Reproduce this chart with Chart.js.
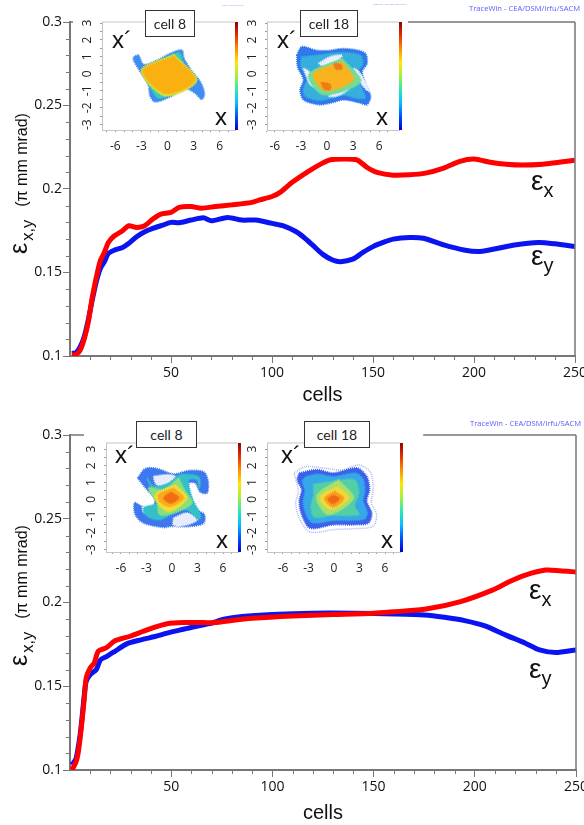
<!DOCTYPE html>
<html>
<head>
<meta charset="utf-8">
<title>emittance growth</title>
<script src="https://cdn.jsdelivr.net/npm/chart.js@4/dist/chart.umd.js"></script>
<style>
  html, body { margin: 0; background: #fff; }
  #page { position: relative; width: 584px; height: 825px; overflow: hidden; }
  canvas { position: absolute; }
  .inset { background: #fff; filter: blur(0.55px); }
  .note { position: absolute; white-space: nowrap; font-family: "Liberation Sans", sans-serif; color: #111; }
  .box { position: absolute; box-sizing: border-box; background: #fff; border: 1px solid #333; font: 14px Lato, sans-serif; color: #222; text-align: center; line-height: 25px; }
  .trace { position: absolute; white-space: nowrap; font: 7.6px "Open Sans", sans-serif; color: #5a5aff; }
  .ytitle { position: absolute; white-space: nowrap; font-family: "Liberation Sans", sans-serif; color: #111; transform-origin: 0 0; transform: rotate(-90deg); line-height: 26px; }
  .eps { font-size: 25px; }
  .s1 { font-size: 16.5px; position: relative; top: 6px; margin-right: 13px; margin-left: 2px; word-spacing: -1px; }
  .s2 { font-size: 16px; }
  .big { font-size: 28px; }
  .sub { font-size: 20px; position: relative; top: 7px; }
</style>
</head>
<body>
<div id="page">
  <canvas id="mainTop" width="584" height="410" style="left:0;top:0"></canvas>
  <canvas id="mainBottom" width="584" height="415" style="left:0;top:410px"></canvas>
  <canvas id="insetA" class="inset" width="166" height="157" style="left:78px;top:0"></canvas>
  <canvas id="insetB" class="inset" width="164" height="157" style="left:244px;top:0"></canvas>
  <canvas id="insetC" class="inset" width="160" height="160" style="left:84px;top:416px"></canvas>
  <canvas id="insetD" class="inset" width="176" height="160" style="left:244px;top:416px"></canvas>

  <div class="trace" style="left:469px;top:3px">TraceWin - CEA/DSM/Irfu/SACM</div>
  <div class="trace" style="left:470px;top:418px">TraceWin - CEA/DSM/Irfu/SACM</div>
  <div class="trace" style="left:222px;top:4px;font-size:1.5px;color:#8080ff">TraceWin - CEA/DSM/Irfu/SACM</div>
  <div class="trace" style="left:373px;top:3px;font-size:2.3px;color:#8080ff">TraceWin - CEA/DSM/Irfu/SACM</div>

  <div class="box" style="left:145px;top:10px;width:50px;height:27px">cell 8</div>
  <div class="box" style="left:300px;top:10px;width:58px;height:27px">cell 18</div>
  <div class="box" style="left:136px;top:421px;width:61px;height:27px">cell 8</div>
  <div class="box" style="left:304px;top:421px;width:66px;height:27px">cell 18</div>

  <div class="note" style="left:112px;top:26px;font-size:24px">x´</div>
  <div class="note" style="left:215px;top:103px;font-size:24px">x</div>
  <div class="note" style="left:277px;top:26px;font-size:24px">x´</div>
  <div class="note" style="left:376px;top:103px;font-size:24px">x</div>
  <div class="note" style="left:115px;top:441px;font-size:24px">x´</div>
  <div class="note" style="left:216px;top:526px;font-size:24px">x</div>
  <div class="note" style="left:281px;top:441px;font-size:24px">x´</div>
  <div class="note" style="left:381px;top:526px;font-size:24px">x</div>

  <div class="ytitle" style="left:5px;top:254px"><span class="eps">ε</span><span class="s1">x,y</span><span class="s2">(π mm mrad)</span></div>
  <div class="ytitle" style="left:5px;top:666px"><span class="eps">ε</span><span class="s1">x,y</span><span class="s2">(π mm mrad)</span></div>

  <div class="note" style="left:531px;top:165px"><span class="big">ε</span><span class="sub">x</span></div>
  <div class="note" style="left:531px;top:240px"><span class="big">ε</span><span class="sub">y</span></div>
  <div class="note" style="left:529px;top:574px"><span class="big">ε</span><span class="sub">x</span></div>
  <div class="note" style="left:529px;top:653px"><span class="big">ε</span><span class="sub">y</span></div>
</div>

<script>
// main curves: cell number + emittance
const topRedCells = [1, 3, 5, 7, 9, 11, 13, 15, 17, 19, 22, 26, 29, 33, 37, 41, 45, 50, 54, 60, 65, 72, 80, 90, 94, 100, 104, 110, 119, 125, 129, 135, 142, 147, 152, 160, 168, 176, 185, 193, 200, 208, 216, 224, 234, 242, 250];
const topRedValues = [0.1005, 0.101, 0.1034, 0.11, 0.12, 0.135, 0.147, 0.157, 0.162, 0.168, 0.172, 0.175, 0.178, 0.177, 0.178, 0.182, 0.185, 0.186, 0.189, 0.1895, 0.1885, 0.1895, 0.1905, 0.192, 0.1935, 0.1955, 0.198, 0.204, 0.2113, 0.2155, 0.2175, 0.218, 0.2175, 0.213, 0.21, 0.2083, 0.2085, 0.2095, 0.2125, 0.2165, 0.2179, 0.216, 0.2148, 0.2143, 0.2148, 0.216, 0.2173];
const topBlueCells = [1, 3, 5, 7, 9, 11, 13, 15, 17, 19, 22, 26, 29, 33, 37, 41, 46, 50, 54, 60, 66, 70, 78, 85, 92, 100, 106, 112, 116, 120, 125, 130, 134, 140, 145, 150, 155, 160, 168, 175, 185, 195, 203, 212, 220, 232, 240, 250];
const topBlueValues = [0.1015, 0.102, 0.1054, 0.1114, 0.1214, 0.1334, 0.1444, 0.1524, 0.1564, 0.1614, 0.1634, 0.165, 0.1674, 0.1714, 0.1744, 0.1764, 0.1784, 0.18, 0.1798, 0.1814, 0.1828, 0.181, 0.183, 0.1814, 0.1814, 0.1794, 0.1778, 0.1744, 0.1708, 0.1665, 0.161, 0.1575, 0.1565, 0.158, 0.162, 0.1655, 0.168, 0.17, 0.171, 0.1705, 0.1665, 0.1635, 0.1626, 0.1645, 0.1665, 0.168, 0.1672, 0.1655];
const bottomRedCells = [1, 3, 4, 5, 6, 7, 8, 10, 12, 14, 18, 22, 30, 36, 42, 48, 56, 66, 72, 78, 90, 110, 130, 150, 160, 176, 193, 209, 217, 225, 235, 242, 250];
const bottomRedValues = [0.1, 0.105, 0.11, 0.119, 0.13, 0.142, 0.155, 0.161, 0.164, 0.171, 0.173, 0.177, 0.18, 0.1827, 0.1853, 0.1873, 0.188, 0.188, 0.188, 0.189, 0.1906, 0.192, 0.1928, 0.1936, 0.1945, 0.1961, 0.2005, 0.2075, 0.2124, 0.2164, 0.2194, 0.219, 0.2182];
const bottomBlueCells = [1, 3, 5, 6, 7, 8, 10, 13, 15, 18, 22, 28, 35, 42, 48, 56, 62, 70, 76, 85, 100, 120, 140, 160, 175, 185, 195, 205, 215, 225, 232, 240, 250];
const bottomBlueValues = [0.103, 0.107, 0.121, 0.132, 0.144, 0.153, 0.157, 0.16, 0.1657, 0.1677, 0.1707, 0.1753, 0.1777, 0.1797, 0.1817, 0.184, 0.1857, 0.1877, 0.19, 0.1916, 0.1928, 0.1936, 0.1936, 0.1932, 0.1926, 0.1912, 0.1892, 0.186, 0.1807, 0.1757, 0.1717, 0.1701, 0.1717];

const yMajorTicks = [0.1, 0.15, 0.2, 0.25, 0.3];
const yMinorTicks = [0.11, 0.12, 0.13, 0.14, 0.16, 0.17, 0.18, 0.19, 0.21, 0.22, 0.23, 0.24, 0.26, 0.27, 0.28, 0.29];
const xMajorTicks = [50, 100, 150, 200, 250];
const xMinorTicks = [10, 20, 30, 40, 60, 70, 80, 90, 110, 120, 130, 140, 160, 170, 180, 190, 210, 220, 230, 240];

// phase space insets: contour outlines in (x, x') units
const insetXTicks = [-7, -6, -5, -4, -3, -2, -1, 0, 1, 2, 3, 4, 5, 6, 7];
const insetYTicks = [-3, -2.5, -2, -1.5, -1, -0.5, 0, 0.5, 1, 1.5, 2, 2.5, 3];
const insetXLabels = [-6, -3, 0, 3, 6];
const insetYLabels = [-3, -2, -1, 0, 1, 2, 3];

const c8TopOuter = [[-3.9, 1], [-3.35, 1.1], [-2.75, 0.55], [-1.2, 0.8], [0.3, 1.2], [1.65, 1.4], [1.9, 0.9], [2.8, 0.15], [3.75, -0.45], [4.25, -1.15], [3.95, -1.5], [3.2, -1.15], [2.05, -0.85], [0.5, -1.3], [-1.4, -1.65], [-2, -1.3], [-2.2, -0.65], [-3.15, 0.15], [-3.9, 0.8]];
const c8TopMid = [[-3, 0.3], [-1.2, 0.72], [0.3, 1.08], [1.4, 1.2], [2.05, 0.25], [3.4, -0.35], [2.6, -0.7], [0.7, -1.17], [-1.05, -1.42], [-1.8, -0.93], [-2.6, -0.25]];
const c8TopGreen = [[0.75, 1.15], [3.35, -0.4], [-0.3, -1.3], [-3, 0.2]];
const c8TopCore = [[0.7, 1.03], [3.15, -0.35], [-0.2, -1.15], [-2.8, 0.18]];

const c18TopOuter = [[-3.46, 1.11], [-2.88, 1.6], [-1.35, 1.4], [0, 1.36], [1.73, 1.48], [3.46, 1.4], [4.42, 1.2], [4.6, 0.62], [4.04, 0.14], [4.42, -0.55], [5, -1.33], [4.6, -1.81], [3.85, -1.72], [1.92, -1.52], [0.38, -1.72], [-0.96, -1.81], [-2.7, -1.52], [-3.08, -0.94], [-2.7, -0.35], [-3.38, 0.43]];
const c18TopTeal = [[-2.9, 1], [-1, 1.1], [1.6, 1.25], [3.8, 1.1], [4.1, 0.6], [3.5, 0.1], [4, -0.9], [4.4, -1.4], [3.6, -1.45], [1.8, -1.25], [0.3, -1.45], [-1, -1.55], [-2.5, -1.3], [-2.7, -0.9], [-2.3, -0.3], [-3, 0.5]];
const c18TopHoleA = [[-0.96, 0.62], [0.38, 1.01], [1.73, 1.11], [1.35, 0.86], [0.19, 0.62], [-0.58, 0.49]];
const c18TopHoleB = [[-2.7, 0.33], [-2.1, 0.14], [-1.35, -0.55], [-1.35, -0.78], [-1.92, -0.64], [-2.4, -0.1]];
const c18TopHoleC = [[0.19, -1.33], [1.35, -0.97], [2.5, -0.84], [1.92, -1.13], [0.96, -1.33]];
const c18TopHoleD = [[3.08, 0.33], [3.65, 0.14], [4.6, -0.64], [4.8, -1.03], [4.04, -0.64]];
const c18TopGreen = [[1.75, 0.9], [3.85, -0.45], [-0.4, -1.23], [-2.1, -0.06]];
const c18TopCore = [[1.7, 0.72], [3.05, -0.35], [-0.2, -0.98], [-1.55, 0]];
const c18TopHotA = [[0.8, 0.62], [1.6, 0.55], [1.7, 0.3], [1, 0.3]];
const c18TopHotB = [[-0.7, -0.5], [0.3, -0.6], [0.4, -0.9], [-0.3, -0.9]];

const c8BotOuter = [[-4.04, 1.27], [-3.14, 1.83], [-1.76, 1.83], [0.2, 1.51], [1.96, 1.71], [3.73, 1.63], [4.24, 1.07], [4.12, 0.38], [3.33, 0.44], [2.75, 0.97], [1.96, 0.97], [2.16, 0.28], [2.94, -0.62], [3.8, -0.91], [3.73, -1.41], [2.16, -1.61], [-0.2, -1.61], [-0.98, -1.67], [-3.33, -1.41], [-4.31, -0.91], [-4.39, -0.22], [-3.53, -0.42], [-2.16, -0.42], [-2.08, 0.08], [-2.94, 0.58]];
const c8BotHoleA = [[-2.16, 1.37], [-0.59, 1.47], [0.39, 1.37], [-0.39, 0.97], [-1.18, 0.68], [-1.96, 0.97]];
const c8BotHoleB = [[0.2, -1.11], [1.76, -0.82], [2.94, -1.21], [1.76, -1.51], [0.2, -1.55]];
const c8BotHoleC = [[-3.5, -0.45], [-2.2, -0.45], [-2.1, -0.75], [-3.3, -0.8]];
const c8BotTeal = [[-2.94, 1.27], [-2.16, 0.78], [-0.39, 0.97], [0.98, 1.47], [2.9, 1.4], [3.3, 1.15], [3.2, 0.7], [2.94, 1.17], [1.96, 1.17], [2.35, 0.08], [3.33, -0.91], [3.14, -1.21], [1.76, -0.62], [0.2, -0.82], [-1.37, -1.21], [-2.6, -1.1], [-3.2, -0.85], [-3.3, -0.5], [-2.16, -0.32], [-1.57, -0.22], [-2.35, 0.58]];
const c8BotGreen = [[0.78, 1.27], [1.57, 0.48], [2.35, -0.22], [0.2, -0.82], [-1.45, -0.91], [-1.76, -0.22], [-2.75, 0.68], [-0.98, 0.58]];
const c8BotYellow = [[0.39, 0.87], [1.76, 0.08], [-0.2, -0.72], [-1.37, -0.42], [-1.96, 0.28]];
const c8BotOrange = [[0.2, 0.68], [1.37, 0.08], [-0.2, -0.42], [-1.37, -0.16], [-1.57, 0.28]];
const c8BotRed = [[-0.12, 0.44], [0.78, 0.08], [-0.2, -0.22], [-0.98, 0.08]];

const c18BotHalo = [[-4.7, 1.55], [-3.4, 1.95], [-1, 1.85], [1, 1.75], [2.9, 2.05], [4.3, 1.6], [4.6, 0.6], [4.4, -0.2], [5, -0.9], [4.6, -1.6], [2.4, -1.75], [0, -1.8], [-2.8, -1.95], [-4.1, -1.1], [-4.5, -0.2], [-4.2, 0.5]];
const c18BotOuter = [[-4.08, 1.57], [-2.04, 1.77], [-0.08, 1.57], [2.67, 1.87], [3.84, 1.37], [4.16, 0.58], [3.84, -0.12], [4.43, -0.82], [4.04, -1.41], [2.27, -1.51], [-0.08, -1.51], [-2.82, -1.71], [-3.8, -0.91], [-4.08, -0.12], [-3.8, 0.58], [-4.31, 1.17]];
const c18BotCyan = [[-3.3, 1.35], [-1.9, 1.5], [0, 1.35], [2.5, 1.55], [3.4, 1.2], [3.6, 0.5], [3.4, -0.1], [3.9, -0.8], [3.6, -1.15], [2.2, -1.25], [0, -1.25], [-2.5, -1.4], [-3.3, -0.85], [-3.6, -0.15], [-3.4, 0.55], [-3.7, 1.1]];
const c18BotTeal = [[-2.4, 0.9], [0.3, 1.1], [2.4, 1.15], [2.9, 0.4], [2.4, -0.4], [2.9, -0.9], [-0.3, -0.95], [-2.3, -1.05], [-2.7, -0.4], [-2.4, 0.2]];
const c18BotGreen = [[0.5, 1.17], [2.27, 0.08], [-0.67, -0.91], [-2.04, 0.18]];
const c18BotYellow = [[0.4, 0.75], [1.7, 0.08], [-0.4, -0.6], [-1.6, 0.14]];
const c18BotOrange = [[0.1, 0.5], [1.15, 0.05], [-0.1, -0.45], [-1.1, 0.05]];
const c18BotRed = [[-0.1, 0.25], [0.6, 0.05], [-0.1, -0.25], [-0.7, 0]];

const jet = ["#0000d8", "#0050ff", "#00c0ff", "#30e8b0", "#a0f040", "#ffe800", "#ff9000", "#e83000", "#900000"];
const axisGrey = "#777";

function zip(cells, values) {
  return cells.map((c, i) => ({ x: c, y: values[i] }));
}

// the scales keep half a label of room at each end, drop it so the frame sits where it should
function noScalePad(s) {
  s.paddingLeft = s.paddingRight = s.paddingTop = s.paddingBottom = 0;
}

// axis decoration the scale options can't do: short minor ticks, frame pieces
const mainDecor = {
  id: "mainDecor",
  afterDraw(chart, args, opts) {
    const { ctx, chartArea: a, scales: { x, y } } = chart;
    ctx.save();
    ctx.strokeStyle = axisGrey;
    ctx.lineWidth = 1;
    ctx.beginPath();
    yMinorTicks.forEach(v => {
      const p = Math.round(y.getPixelForValue(v)) + 0.5;
      ctx.moveTo(a.left - 4, p);
      ctx.lineTo(a.left, p);
    });
    xMinorTicks.forEach(v => {
      const p = Math.round(x.getPixelForValue(v)) + 0.5;
      ctx.moveTo(p, a.bottom);
      ctx.lineTo(p, a.bottom + 4);
    });
    ctx.stroke();
    ctx.lineWidth = 1.5;
    ctx.beginPath();
    opts.topFrame.forEach(seg => {
      ctx.moveTo(x.getPixelForValue(seg[0]), a.top);
      ctx.lineTo(x.getPixelForValue(seg[1]), a.top);
    });
    ctx.moveTo(a.right, a.top);
    ctx.lineTo(a.right, a.bottom);
    ctx.stroke();
    ctx.restore();
  }
};

function makeMain(id, padTop, padRight, axisHeight, titlePad, topFrame, blue, red) {
  return new Chart(document.getElementById(id), {
    type: "scatter",
    data: {
      datasets: [
        { label: "ex", data: red, showLine: true, borderColor: "#ff0000", backgroundColor: "#ff0000", borderWidth: 5, pointRadius: 0, tension: 0.25 },
        { label: "ey", data: blue, showLine: true, borderColor: "#0a14f0", backgroundColor: "#0a14f0", borderWidth: 5, pointRadius: 0, tension: 0.25 }
      ]
    },
    options: {
      responsive: false,
      animation: false,
      layout: { autoPadding: false, padding: { top: padTop, right: padRight, left: 0, bottom: 0 } },
      plugins: { legend: { display: false }, tooltip: { enabled: false }, mainDecor: { topFrame } },
      scales: {
        x: {
          type: "linear",
          min: 0,
          max: 250,
          afterFit: s => { s.height = axisHeight; noScalePad(s); },
          afterBuildTicks: s => { s.ticks = xMajorTicks.map(v => ({ value: v })); },
          border: { color: axisGrey, width: 2 },
          grid: { drawOnChartArea: false, tickLength: 7, tickColor: axisGrey, tickWidth: 1 },
          ticks: { maxRotation: 0, padding: 2, color: "#111", font: { family: "Open Sans", size: 14 } },
          title: { display: true, text: "cells", color: "#111", padding: { top: 0, bottom: titlePad }, font: { family: "Liberation Sans", size: 20 } }
        },
        y: {
          min: 0.1,
          max: 0.3,
          afterFit: s => { s.width = 70; noScalePad(s); },
          afterBuildTicks: s => { s.ticks = yMajorTicks.map(v => ({ value: v })); },
          border: { color: axisGrey, width: 2 },
          grid: { drawOnChartArea: false, tickLength: 7, tickColor: axisGrey, tickWidth: 1 },
          ticks: { padding: 1, color: "#111", font: { family: "Open Sans", size: 14 }, callback: v => String(+v.toFixed(2)) }
        }
      }
    },
    plugins: [mainDecor]
  });
}

// fills each contour from the line element of its dataset, then frame, colour bar and the turned x' labels
const insetDecor = {
  id: "insetDecor",
  beforeDatasetDraw(chart, args) {
    const el = args.meta.dataset;
    const bg = chart.data.datasets[args.index].backgroundColor;
    if (!bg || bg === "none") return;
    const ctx = chart.ctx;
    el.updateControlPoints(chart.chartArea, "x");
    ctx.save();
    ctx.fillStyle = bg;
    ctx.beginPath();
    el.path(ctx);
    ctx.closePath();
    ctx.fill();
    ctx.restore();
  },
  afterDraw(chart) {
    const { ctx, chartArea: a, scales: { y } } = chart;
    ctx.save();
    ctx.strokeStyle = "#c4c4c4";
    ctx.lineWidth = 1;
    ctx.beginPath();
    ctx.moveTo(a.left, a.top);
    ctx.lineTo(a.right, a.top);
    ctx.stroke();
    const grad = ctx.createLinearGradient(0, a.bottom, 0, a.top);
    jet.forEach((c, i) => grad.addColorStop(i / (jet.length - 1), c));
    ctx.fillStyle = grad;
    ctx.fillRect(a.right, a.top, 3, a.bottom - a.top);
    ctx.fillStyle = "#222";
    ctx.font = '12px "Open Sans"';
    ctx.textAlign = "center";
    ctx.textBaseline = "middle";
    insetYLabels.forEach(v => {
      ctx.save();
      ctx.translate(a.left - 14, y.getPixelForValue(v));
      ctx.rotate(-Math.PI / 2);
      ctx.fillText(String(v), 0, 0);
      ctx.restore();
    });
    ctx.restore();
  }
};

function shape(points, color, extra) {
  return Object.assign({
    data: points.concat([points[0]]).map(p => ({ x: p[0], y: p[1] })),
    showLine: true,
    backgroundColor: color,
    borderColor: color,
    borderWidth: 2,
    borderDash: [1, 1],
    pointRadius: 0,
    tension: 0.3
  }, extra || {});
}

function makeInset(id, frame, xRange, yRange, layers) {
  const canvas = document.getElementById(id);
  const canvasLeft = parseFloat(canvas.style.left);
  const canvasTop = parseFloat(canvas.style.top);
  return new Chart(canvas, {
    type: "scatter",
    // first dataset is painted last, so the hot core goes first
    data: { datasets: layers.slice().reverse() },
    options: {
      responsive: false,
      animation: false,
      layout: { autoPadding: false, padding: { top: frame.top - canvasTop, right: canvasLeft + canvas.width - frame.right, left: 0, bottom: 0 } },
      plugins: { legend: { display: false }, tooltip: { enabled: false } },
      scales: {
        x: {
          type: "linear",
          min: xRange[0],
          max: xRange[1],
          afterFit: s => { s.height = canvasTop + canvas.height - frame.bottom; noScalePad(s); },
          afterBuildTicks: s => { s.ticks = insetXTicks.map(v => ({ value: v })); },
          border: { color: "#c4c4c4" },
          grid: { drawOnChartArea: false, tickLength: 2, tickColor: "#999" },
          ticks: {
            autoSkip: false, maxRotation: 0, padding: 7, color: "#222", font: { family: "Open Sans", size: 12 },
            callback: v => insetXLabels.includes(v) ? String(v) : ""
          }
        },
        y: {
          type: "linear",
          min: yRange[0],
          max: yRange[1],
          afterFit: s => { s.width = frame.left - canvasLeft; noScalePad(s); },
          afterBuildTicks: s => { s.ticks = insetYTicks.map(v => ({ value: v })); },
          border: { color: "#c4c4c4" },
          grid: { drawOnChartArea: false, tickLength: 2, tickColor: "#999" },
          ticks: { display: false }
        }
      }
    },
    plugins: [insetDecor]
  });
}

makeMain("mainTop", 22, 9, 54, 3, [[0, 1.5], [167, 250]], zip(topBlueCells, topBlueValues), zip(topRedCells, topRedValues));
makeMain("mainBottom", 25, 8, 55, 0, [[0, 13.5], [174.5, 250]], zip(bottomBlueCells, bottomBlueValues), zip(bottomRedCells, bottomRedValues));

makeInset("insetA", { left: 102, right: 235, top: 22, bottom: 130 }, [-7.53, 7.76], [-3.31, 3.06], [
  shape(c8TopOuter, "#3f8cf2"),
  shape(c8TopMid, "#38cdb4"),
  shape(c8TopGreen, "#d7dd3a"),
  shape(c8TopCore, "#fab011")
]);
makeInset("insetB", { left: 267, right: 399, top: 22, bottom: 130 }, [-6.9, 8.28], [-3.31, 3.06], [
  shape(c18TopOuter, "#2f78ee"),
  shape(c18TopTeal, "#37afdc"),
  shape(c18TopHoleA, "#e9eefb"),
  shape(c18TopHoleB, "#e9eefb"),
  shape(c18TopHoleC, "#e9eefb"),
  shape(c18TopHoleD, "#e9eefb"),
  shape(c18TopGreen, "#73dc95"),
  shape(c18TopCore, "#f9b31f"),
  shape(c18TopHotA, "#ee7a18"),
  shape(c18TopHotB, "#ee7a18")
]);
makeInset("insetC", { left: 106, right: 238, top: 443, bottom: 552 }, [-7.76, 7.76], [-3.14, 3.36], [
  shape(c8BotOuter, "#3d78ee"),
  shape(c8BotHoleA, "#e6ecfb"),
  shape(c8BotHoleB, "#e6ecfb"),
  shape(c8BotHoleC, "#e6ecfb"),
  shape(c8BotTeal, "#34bfcb"),
  shape(c8BotGreen, "#86e07e"),
  shape(c8BotYellow, "#f2dc36"),
  shape(c8BotOrange, "#fbaa1c"),
  shape(c8BotRed, "#ee6e14")
]);
makeInset("insetD", { left: 267, right: 400, top: 443, bottom: 552 }, [-7.88, 7.76], [-3.14, 3.36], [
  shape(c18BotHalo, "none", { borderColor: "#a8b4f2", borderWidth: 1.5 }),
  shape(c18BotOuter, "#3a62ea"),
  shape(c18BotCyan, "#35a8e8"),
  shape(c18BotTeal, "#52cfa8"),
  shape(c18BotGreen, "#a9e06a"),
  shape(c18BotYellow, "#f2d93a"),
  shape(c18BotOrange, "#fb9d1e"),
  shape(c18BotRed, "#ee6a14")
]);
</script>
</body>
</html>
